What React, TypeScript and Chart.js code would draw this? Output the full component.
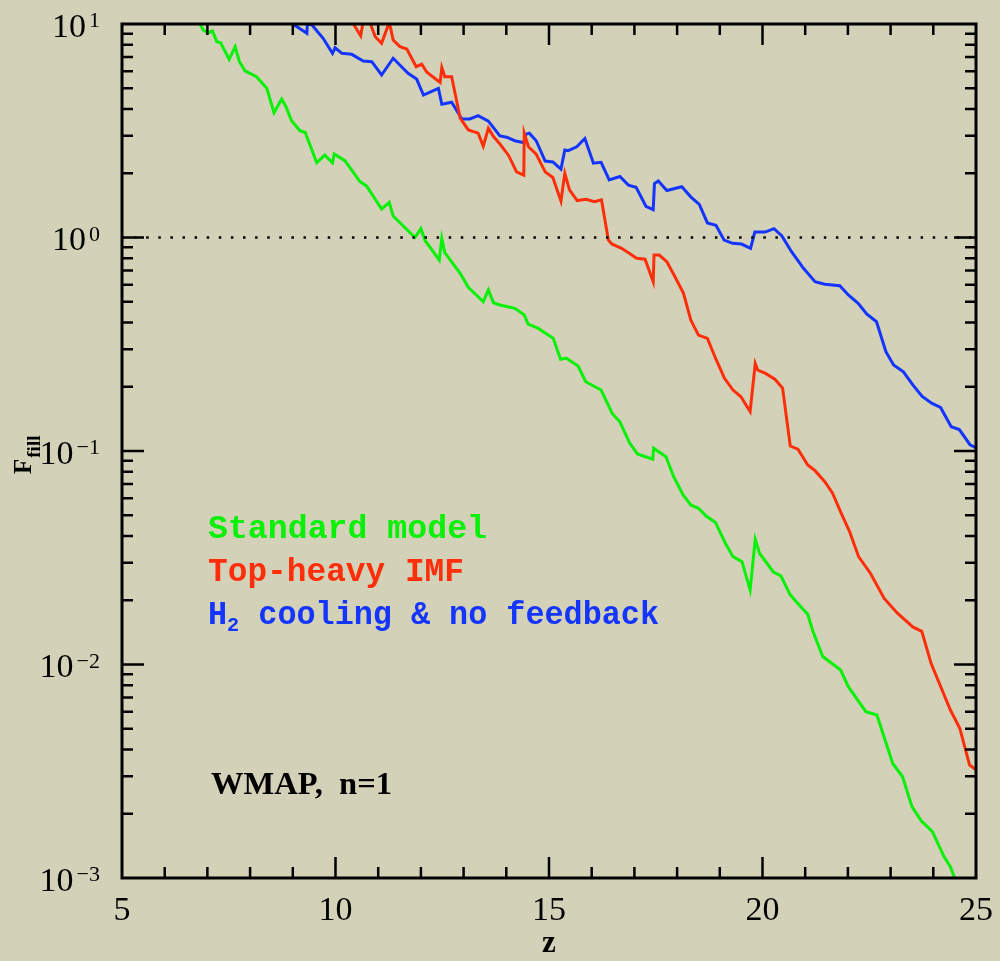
import React, { useEffect, useRef } from 'react';
import { Chart, registerables } from 'chart.js';

Chart.register(...registerables);

// ---------- data ----------
const zRange = [5, 25];
const fRange = [0.001, 10];
const xTickValues = [5, 10, 15, 20, 25];
const xTickLabels = ['5', '10', '15', '20', '25'];
const yTickExponents = [1, 0, -1, -2, -3];
const seriesLabels = ['Standard model', 'Top-heavy IMF', 'H2 cooling & no feedback'];
const seriesColors = ['#08f008', '#ff2e0a', '#1434ff'];
const xAxisTitle = 'z';
const yAxisTitle = 'F';
const yAxisSubscript = 'fill';
const annotation = 'WMAP,  n=1';

// [z, F_fill]
const standardModel: [number, number][] = [
  [6.83, 10.0], [6.90, 9.37], [7.01, 9.08], [7.12, 9.27], [7.22, 8.26], [7.31, 8.17],
  [7.51, 6.83], [7.65, 7.83], [7.75, 6.66], [7.88, 6.04], [8.15, 5.66], [8.39, 5.0],
  [8.56, 3.84], [8.74, 4.45], [8.84, 4.10], [8.97, 3.52], [9.17, 3.16], [9.29, 3.11],
  [9.56, 2.24], [9.75, 2.43], [9.93, 2.24], [9.97, 2.46], [10.22, 2.29], [10.57, 1.83],
  [10.73, 1.74], [11.08, 1.36], [11.26, 1.46], [11.35, 1.26], [11.86, 1.0], [12.0, 1.10],
  [12.10, 0.966], [12.43, 0.785], [12.49, 0.99], [12.56, 0.849], [12.92, 0.68], [13.11, 0.584],
  [13.46, 0.5], [13.58, 0.568], [13.70, 0.495], [13.85, 0.483], [14.20, 0.466], [14.42, 0.434],
  [14.51, 0.393], [14.74, 0.376], [15.10, 0.337], [15.27, 0.269], [15.41, 0.272], [15.68, 0.25],
  [15.86, 0.211], [16.22, 0.193], [16.48, 0.15], [16.66, 0.137], [16.89, 0.109], [17.07, 0.0969],
  [17.43, 0.0915], [17.45, 0.103], [17.74, 0.094], [17.92, 0.0758], [18.14, 0.0622], [18.32, 0.0559],
  [18.50, 0.0539], [18.68, 0.0496], [18.90, 0.0462], [19.13, 0.037], [19.31, 0.032], [19.52, 0.0303],
  [19.71, 0.0223], [19.83, 0.0386], [19.93, 0.0332], [20.25, 0.0272], [20.43, 0.026], [20.65, 0.0212],
  [20.88, 0.0188], [21.06, 0.0172], [21.17, 0.0145], [21.41, 0.0109], [21.83, 0.00942], [22.01, 0.00787],
  [22.42, 0.00601], [22.68, 0.0058], [23.05, 0.00344], [23.28, 0.00298], [23.50, 0.00216], [23.73, 0.00184],
  [23.98, 0.00165], [24.25, 0.00126], [24.40, 0.00113], [24.50, 0.001],
];

const topHeavyIMF: [number, number][] = [
  [10.42, 10.0], [10.59, 8.81], [10.72, 12.5], [10.82, 10.0], [10.93, 8.72], [11.08, 8.12],
  [11.26, 10.2], [11.35, 8.41], [11.51, 7.83], [11.67, 7.64], [11.89, 6.31], [12.02, 6.48],
  [12.14, 5.94], [12.45, 5.33], [12.49, 6.24], [12.56, 5.66], [12.72, 5.66], [12.92, 3.62],
  [13.11, 3.19], [13.34, 3.08], [13.46, 2.68], [13.58, 3.25], [13.70, 2.97], [13.85, 2.74],
  [14.05, 2.43], [14.24, 2.03], [14.41, 1.96], [14.42, 3.08], [14.52, 2.66], [14.70, 2.46],
  [14.91, 2.03], [15.09, 1.91], [15.28, 1.48], [15.37, 2.0], [15.48, 1.67], [15.66, 1.49],
  [15.87, 1.51], [16.06, 1.47], [16.23, 1.5], [16.39, 0.973], [16.47, 0.933], [16.70, 0.89],
  [16.88, 0.844], [17.05, 0.799], [17.25, 0.791], [17.44, 0.621], [17.46, 0.828], [17.58, 0.828],
  [17.76, 0.77], [17.95, 0.655], [18.15, 0.548], [18.32, 0.411], [18.50, 0.349], [18.71, 0.337],
  [18.90, 0.272], [19.11, 0.219], [19.31, 0.193], [19.49, 0.18], [19.71, 0.153], [19.83, 0.257],
  [19.89, 0.239], [20.07, 0.231], [20.29, 0.217], [20.47, 0.197], [20.65, 0.1055], [20.83, 0.102],
  [21.06, 0.086], [21.23, 0.0809], [21.46, 0.0718], [21.64, 0.0634], [21.86, 0.0502], [22.04, 0.0419],
  [22.25, 0.032], [22.53, 0.0267], [22.85, 0.0204], [23.16, 0.0174], [23.52, 0.015], [23.73, 0.0143],
  [23.95, 0.0101], [24.40, 0.00612], [24.62, 0.00503], [24.85, 0.00338], [25.0, 0.00321],
];

const h2Cooling: [number, number][] = [
  [9.0, 10.0], [9.33, 9.05], [9.34, 9.95], [9.44, 9.95], [9.71, 8.57], [9.93, 7.29],
  [9.99, 7.74], [10.15, 7.29], [10.38, 7.21], [10.65, 6.71], [10.85, 6.66], [11.08, 5.77],
  [11.35, 6.91], [11.70, 5.88], [11.90, 5.52], [12.06, 4.65], [12.41, 5.0], [12.49, 4.21],
  [12.72, 4.30], [12.96, 3.59], [13.15, 3.59], [13.34, 3.72], [13.58, 3.51], [13.85, 2.99],
  [14.01, 2.95], [14.20, 2.84], [14.41, 2.78], [14.46, 3.05], [14.54, 3.08], [14.70, 2.84],
  [14.91, 2.28], [15.09, 2.26], [15.28, 2.09], [15.37, 2.57], [15.45, 2.55], [15.65, 2.66],
  [15.84, 2.91], [16.04, 2.23], [16.22, 2.25], [16.41, 1.86], [16.66, 1.93], [16.86, 1.76],
  [17.04, 1.72], [17.27, 1.40], [17.44, 1.35], [17.47, 1.79], [17.56, 1.84], [17.76, 1.66],
  [18.11, 1.73], [18.32, 1.55], [18.52, 1.43], [18.71, 1.17], [18.91, 1.14], [19.10, 0.973],
  [19.30, 0.939], [19.51, 0.932], [19.72, 0.89], [19.82, 1.06], [20.06, 1.06], [20.27, 1.10],
  [20.45, 1.02], [20.68, 0.858], [20.96, 0.717], [21.23, 0.621], [21.46, 0.604], [21.81, 0.595],
  [22.01, 0.538], [22.24, 0.492], [22.44, 0.438], [22.67, 0.403], [22.89, 0.292], [23.07, 0.253],
  [23.30, 0.235], [23.52, 0.204], [23.74, 0.18], [23.97, 0.167], [24.17, 0.16], [24.42, 0.13],
  [24.61, 0.126], [24.86, 0.107], [24.98, 0.104],
];

const unityLine: [number, number][] = [[5, 1], [25, 1]];

const seriesData = [standardModel, topHeavyIMF, h2Cooling];

// ---------- drawing helpers ----------
type Part = { text: string; font: string; dy: number };

function drawFitted(ctx: CanvasRenderingContext2D, parts: Part[], x: number, baseline: number, width: number, color: string) {
  let total = 0;
  const widths = parts.map((p) => {
    ctx.font = p.font;
    const w = ctx.measureText(p.text).width;
    total += w;
    return w;
  });
  const s = width / total;
  ctx.save();
  ctx.translate(x, baseline);
  ctx.scale(s, 1);
  ctx.fillStyle = color;
  ctx.textAlign = 'left';
  ctx.textBaseline = 'alphabetic';
  let cx = 0;
  parts.forEach((p, i) => {
    ctx.font = p.font;
    ctx.fillText(p.text, cx, p.dy);
    cx += widths[i];
  });
  ctx.restore();
}

const decorPlugin = {
  id: 'decor',
  beforeDraw(chart: any) {
    const ctx = chart.ctx as CanvasRenderingContext2D;
    ctx.save();
    ctx.fillStyle = '#d3d2b8';
    ctx.fillRect(0, 0, chart.width, chart.height);
    ctx.restore();
  },
  afterDraw(chart: any) {
    const ctx = chart.ctx as CanvasRenderingContext2D;
    const { left, right, top, bottom } = chart.chartArea;
    const xs = chart.scales.x;
    const ys = chart.scales.y;
    ctx.save();
    ctx.strokeStyle = '#000';
    ctx.fillStyle = '#000';

    // ticks
    ctx.lineWidth = 2.5;
    ctx.beginPath();
    for (let z = zRange[0] + 1; z < zRange[1]; z++) {
      const x = xs.getPixelForValue(z);
      const len = z % 5 === 0 ? 21 : 11;
      ctx.moveTo(x, bottom);
      ctx.lineTo(x, bottom - len);
      ctx.moveTo(x, top);
      ctx.lineTo(x, top + len);
    }
    for (let e = -3; e <= 0; e++) {
      for (let m = 1; m <= 9; m++) {
        const v = m * Math.pow(10, e);
        if (v <= fRange[0] || v >= fRange[1]) continue;
        const y = ys.getPixelForValue(v);
        const len = m === 1 ? 22 : 11;
        ctx.moveTo(left, y);
        ctx.lineTo(left + len, y);
        ctx.moveTo(right, y);
        ctx.lineTo(right - len, y);
      }
    }
    ctx.stroke();

    // frame
    ctx.lineWidth = 3;
    ctx.strokeRect(left, top, right - left, bottom - top);

    // x tick labels
    ctx.font = '34px "Liberation Serif"';
    ctx.textAlign = 'center';
    ctx.textBaseline = 'alphabetic';
    xTickValues.forEach((v, i) => {
      ctx.fillText(xTickLabels[i], xs.getPixelForValue(v), bottom + 42);
    });

    // y tick labels 10^n
    yTickExponents.forEach((e) => {
      const y = ys.getPixelForValue(Math.pow(10, e));
      const sup = e < 0 ? '\u2212' + Math.abs(e) : String(e);
      ctx.font = '22px "Liberation Serif"';
      const ws = ctx.measureText(sup).width;
      ctx.font = '34px "Liberation Serif"';
      const wb = ctx.measureText('10').width;
      const rightEdge = left - 22;
      ctx.textAlign = 'left';
      ctx.fillText('10', rightEdge - ws - 3 - wb, y + 12.5);
      ctx.font = '22px "Liberation Serif"';
      ctx.fillText(sup, rightEdge - ws, y + 3);
    });

    // axis titles
    ctx.font = 'bold 31px "Liberation Serif"';
    ctx.textAlign = 'center';
    ctx.fillText(xAxisTitle, (left + right) / 2, bottom + 74);

    ctx.save();
    ctx.translate(31, 474);
    ctx.rotate(-Math.PI / 2);
    ctx.textAlign = 'left';
    ctx.font = 'bold 25px "Liberation Serif"';
    ctx.fillText(yAxisTitle, 0, 0);
    const fw = ctx.measureText(yAxisTitle).width;
    ctx.font = 'bold 19px "Liberation Serif"';
    ctx.fillText(yAxisSubscript, fw + 1, 9);
    ctx.restore();

    // legend texts
    const legendFont = 'bold 33px "Liberation Mono"';
    const legendSub = 'bold 21px "Liberation Mono"';
    const baselines = [538, 581, 624];
    const widths = [279, 256, 451];
    seriesLabels.forEach((label, i) => {
      let parts: Part[];
      if (label.startsWith('H2')) {
        parts = [
          { text: 'H', font: legendFont, dy: 0 },
          { text: '2', font: legendSub, dy: 7 },
          { text: label.slice(2), font: legendFont, dy: 0 },
        ];
      } else {
        parts = [{ text: label, font: legendFont, dy: 0 }];
      }
      drawFitted(ctx, parts, 208, baselines[i], widths[i], seriesColors[i]);
    });

    // annotation
    drawFitted(ctx, [{ text: annotation, font: 'bold 31px "Liberation Serif"', dy: 0 }], 211, 794, 181, '#000');

    ctx.restore();
  },
};

export default function App() {
  const ref = useRef<HTMLCanvasElement>(null);
  useEffect(() => {
    document.body.style.margin = '0';
    const toPts = (a: [number, number][]) => a.map(([x, y]) => ({ x, y }));
    const datasets: any[] = [
      {
        label: 'unity',
        data: toPts(unityLine),
        borderColor: '#000',
        borderWidth: 2.5,
        borderDash: [2.5, 9.6],
        borderCapStyle: 'butt',
        pointRadius: 0,
        clip: 0,
      },
    ];
    seriesData.forEach((d, i) => {
      datasets.push({
        label: seriesLabels[i],
        data: toPts(d),
        borderColor: seriesColors[i],
        borderWidth: 3,
        borderJoinStyle: 'miter',
        pointRadius: 0,
        tension: 0,
        clip: 0,
      });
    });
    const chart = new Chart(ref.current as HTMLCanvasElement, {
      type: 'line',
      data: { datasets },
      options: {
        responsive: false,
        animation: false,
        events: [],
        layout: { padding: { left: 122, right: 24, top: 24, bottom: 83 } },
        scales: {
          x: { type: 'linear', min: zRange[0], max: zRange[1], display: false },
          y: { type: 'logarithmic', min: fRange[0], max: fRange[1], display: false },
        },
        plugins: { legend: { display: false }, tooltip: { enabled: false } },
        elements: { point: { radius: 0 }, line: { tension: 0 } },
      },
      plugins: [decorPlugin],
    } as any);
    return () => chart.destroy();
  }, []);
  return (
    <div style={{ position: 'absolute', left: 0, top: 0, width: 1000, height: 961 }}>
      <canvas ref={ref} width={1000} height={961} style={{ display: 'block' }} />
    </div>
  );
}
